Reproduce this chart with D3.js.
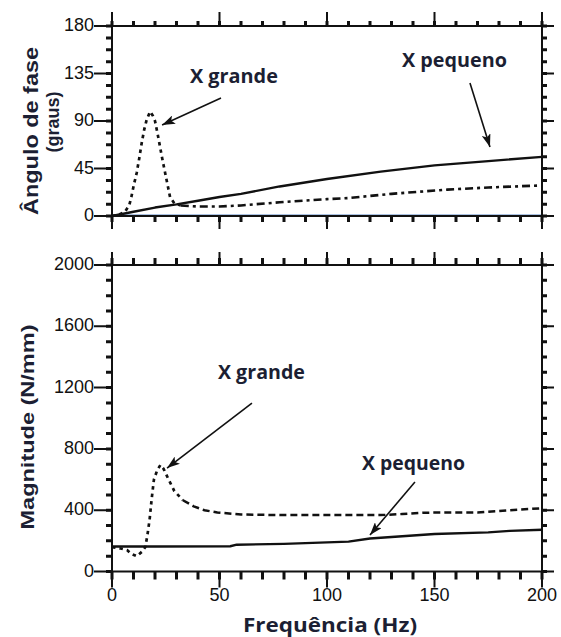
<!DOCTYPE html>
<html>
<head>
<meta charset="utf-8">
<script src="https://cdn.jsdelivr.net/npm/d3@7"></script>
<style>
  html, body { margin: 0; padding: 0; background: #fff; }
  svg { display: block; }
</style>
</head>
<body>
<svg id="chart" width="561" height="637"></svg>
<script>
// Frequency response: phase angle (top) and magnitude (bottom) vs frequency.

// Phase angle, small X (solid)
const phaseSmallFreq = [0, 10, 20, 30, 40, 50, 60, 78, 100, 125, 150, 175, 200];
const phaseSmallDeg  = [0, 4, 8, 11, 14.5, 18, 21, 28, 35, 42, 48, 52, 56];

// Phase angle, large X (dashed)
const phaseLargeFreq = [0, 3, 6, 8, 9, 10, 11.5, 12.7, 13.8, 15, 16.1, 17.7, 19, 20, 21.2, 22.3, 23.5, 24.7, 26, 27, 29, 32, 40, 50, 60, 78, 100, 110, 130, 156, 175, 200];
const phaseLargeDeg  = [0, 1, 4, 10, 18, 28, 41, 55, 69, 82, 91, 99, 95, 90, 78, 66, 53, 41, 28, 18, 12, 10, 9, 9, 10, 13, 16, 17, 21, 25, 27, 29];

// Magnitude, small X (solid)
const magSmallFreq = [0, 20, 55, 58, 80, 100, 110, 120, 135, 150, 175, 185, 200];
const magSmallVal  = [163, 163, 165, 175, 180, 190, 195, 215, 230, 245, 255, 265, 272];

// Magnitude, large X (dashed)
const magLargeFreq = [0, 4, 7, 9, 11.5, 14, 15.5, 16.5, 17.5, 18.5, 19.5, 21, 22.5, 24, 26, 29, 33, 38, 43, 49, 60, 80, 100, 125, 135, 145, 170, 185, 200];
const magLargeVal  = [158, 150, 140, 115, 100, 130, 160, 240, 340, 480, 600, 660, 695, 670, 610, 525, 465, 425, 400, 385, 372, 368, 368, 368, 375, 384, 385, 400, 413];

// Axis ticks
const freqMajor  = [0, 50, 100, 150, 200];
const freqMinor  = d3.range(0, 201, 10);
const phaseMajor = [0, 45, 90, 135, 180];
const phaseMinor = d3.range(0, 181, 11.25);
const magMajor   = [0, 400, 800, 1200, 1600, 2000];
const magMinor   = d3.range(0, 2001, 100);

// Annotation text and arrows, in data units: label position, arrow start, arrow tip
const phaseNotes = [
  { text: "X grande",  label: [56.7, 126], from: [50.7, 111.8], to: [23.3, 86.2], len: 88 },
  { text: "X pequeno", label: [159.3, 141], from: [166.5, 126], to: [175.8, 65.4], len: 105 }
];
const magNotes = [
  { text: "X grande",  label: [69.5, 1256], from: [65.1, 1099], to: [25.6, 675], len: 87 },
  { text: "X pequeno", label: [140.2, 662], from: [140.9, 584], to: [120, 238], len: 103 }
];

const svg = d3.select("#chart");
const INK = "#111";
const TITLE_INK = "#1c1f33";
const TICK_FONT = "'Liberation Sans', Arial, sans-serif";

const x = d3.scaleLinear().domain([0, 200]).range([112, 542]);
const yPhase = d3.scaleLinear().domain([0, 180]).range([216, 26]);
const yMag = d3.scaleLinear().domain([0, 2000]).range([571.5, 265]);

function zip(a, b) { return a.map((v, i) => [v, b[i]]); }

function drawLine(pts, scaleY, dash, width) {
  svg.append("path")
    .datum(pts)
    .attr("fill", "none")
    .attr("stroke", INK)
    .attr("stroke-width", width)
    .attr("stroke-dasharray", dash)
    .attr("stroke-linejoin", "round")
    .attr("d", d3.line().x(d => x(d[0])).y(d => scaleY(d[1])));
}

// arrow head marker
svg.append("defs").append("marker")
  .attr("id", "head")
  .attr("viewBox", "0 0 13 9")
  .attr("refX", 13).attr("refY", 4.5)
  .attr("markerWidth", 13).attr("markerHeight", 9)
  .attr("markerUnits", "userSpaceOnUse")
  .attr("orient", "auto")
  .append("path").attr("d", "M0,0 L13,4.5 L0,9 L3,4.5 Z").attr("fill", INK);

function drawNotes(list, scaleY) {
  list.forEach(n => {
    svg.append("line")
      .attr("x1", x(n.from[0])).attr("y1", scaleY(n.from[1]))
      .attr("x2", x(n.to[0])).attr("y2", scaleY(n.to[1]))
      .attr("stroke", INK).attr("stroke-width", 1.6)
      .attr("marker-end", "url(#head)");
    svg.append("text")
      .attr("x", x(n.label[0])).attr("y", scaleY(n.label[1]))
      .attr("text-anchor", "middle")
      .attr("textLength", n.len).attr("lengthAdjust", "spacingAndGlyphs")
      .attr("fill", TITLE_INK)
      .style("font-family", "'Open Sans', sans-serif")
      .style("font-weight", 700)
      .style("font-size", "19px")
      .text(n.text);
  });
}

// Frame, tick labels and tick marks of one panel; ticks are built as one path per set
function drawFrame(scaleY, majorY, minorY, opts) {
  const g = svg.append("g");
  const left = x.range()[0], right = x.range()[1];
  const bottom = scaleY.range()[0], top = scaleY.range()[1];

  g.append("rect").attr("x", left).attr("y", top)
    .attr("width", right - left).attr("height", bottom - top)
    .attr("fill", "none").attr("stroke", INK).attr("stroke-width", 2);

  majorY.forEach(v => {
    g.append("text").attr("x", left - 18).attr("y", scaleY(v) + 5)
      .attr("text-anchor", "end").attr("fill", INK)
      .style("font-family", TICK_FONT).style("font-size", "18px")
      .text(v);
  });
  if (opts.labels) {
    freqMajor.forEach(v => {
      g.append("text").attr("x", x(v)).attr("y", bottom + 29)
        .attr("text-anchor", "middle").attr("fill", INK)
        .style("font-family", TICK_FONT).style("font-size", "18px")
        .text(v);
    });
  }

  const minor = d3.path();
  minorY.forEach(v => {
    const yy = scaleY(v);
    minor.moveTo(left, yy); minor.lineTo(left - 6, yy);
    minor.moveTo(right, yy); minor.lineTo(right + 5, yy);
  });
  freqMinor.forEach(v => {
    const xx = x(v);
    minor.moveTo(xx, top); minor.lineTo(xx, top - opts.topMinor);
    minor.moveTo(xx, bottom); minor.lineTo(xx, bottom + opts.botMinor);
  });
  g.append("path").attr("d", minor.toString())
    .attr("fill", "none").attr("stroke", INK).attr("stroke-width", 3);

  const major = d3.path();
  majorY.forEach(v => {
    const yy = scaleY(v);
    major.moveTo(left, yy); major.lineTo(left - 18, yy);
    major.moveTo(right, yy); major.lineTo(right + 12, yy);
  });
  freqMajor.forEach(v => {
    const xx = x(v);
    major.moveTo(xx, top); major.lineTo(xx, top - opts.topMajor);
    major.moveTo(xx, bottom); major.lineTo(xx, bottom + opts.botMajor);
  });
  g.append("path").attr("d", major.toString())
    .attr("fill", "none").attr("stroke", INK).attr("stroke-width", 2);
}

// ---- Top panel: phase angle ----
// faint zero reference trace
svg.append("line")
  .attr("x1", x(0)).attr("x2", x(200))
  .attr("y1", yPhase(0) - 1.5).attr("y2", yPhase(0) - 1.5)
  .attr("stroke", "#5a86c6").attr("stroke-width", 1).attr("opacity", 0.5);

const phaseLarge = zip(phaseLargeFreq, phaseLargeDeg);
drawLine(zip(phaseSmallFreq, phaseSmallDeg), yPhase, null, 2.4);
drawLine(phaseLarge.filter(d => d[0] <= 32), yPhase, "3.5,4", 2.7);
drawLine(phaseLarge.filter(d => d[0] >= 32), yPhase, "8,4,3,4", 2.6);
drawNotes(phaseNotes, yPhase);
drawFrame(yPhase, phaseMajor, phaseMinor, { topMinor: 5, topMajor: 14, botMinor: 6, botMajor: 13, labels: false });

// ---- Bottom panel: magnitude ----
const magLarge = zip(magLargeFreq, magLargeVal);
drawLine(zip(magSmallFreq, magSmallVal), yMag, null, 2.4);
drawLine(magLarge.filter(d => d[0] <= 33), yMag, "3.5,4", 2.7);
drawLine(magLarge.filter(d => d[0] >= 33), yMag, "7,4", 2.5);
drawNotes(magNotes, yMag);
drawFrame(yMag, magMajor, magMinor, { topMinor: 7, topMajor: 13, botMinor: 8, botMajor: 16, labels: true });

// ---- Axis titles ----
function drawTitle(txt, tx, ty, rot, len, size, family) {
  svg.append("text")
    .attr("transform", `translate(${tx},${ty}) rotate(${rot})`)
    .attr("text-anchor", "middle")
    .attr("textLength", len).attr("lengthAdjust", "spacingAndGlyphs")
    .attr("fill", TITLE_INK)
    .style("font-family", family)
    .style("font-weight", 700)
    .style("font-size", size + "px")
    .text(txt);
}
const SANS = "'Liberation Sans', Arial, sans-serif";
drawTitle("Ângulo de fase", 38, 131, -90, 168, 20, SANS);
drawTitle("(graus)", 59, 122, -90, 61, 18, SANS);
drawTitle("Magnitude (N/mm)", 34, 427, -90, 205, 19, SANS);
drawTitle("Frequência (Hz)", 330, 632, 0, 174, 20, "'Open Sans', sans-serif");
</script>
</body>
</html>
